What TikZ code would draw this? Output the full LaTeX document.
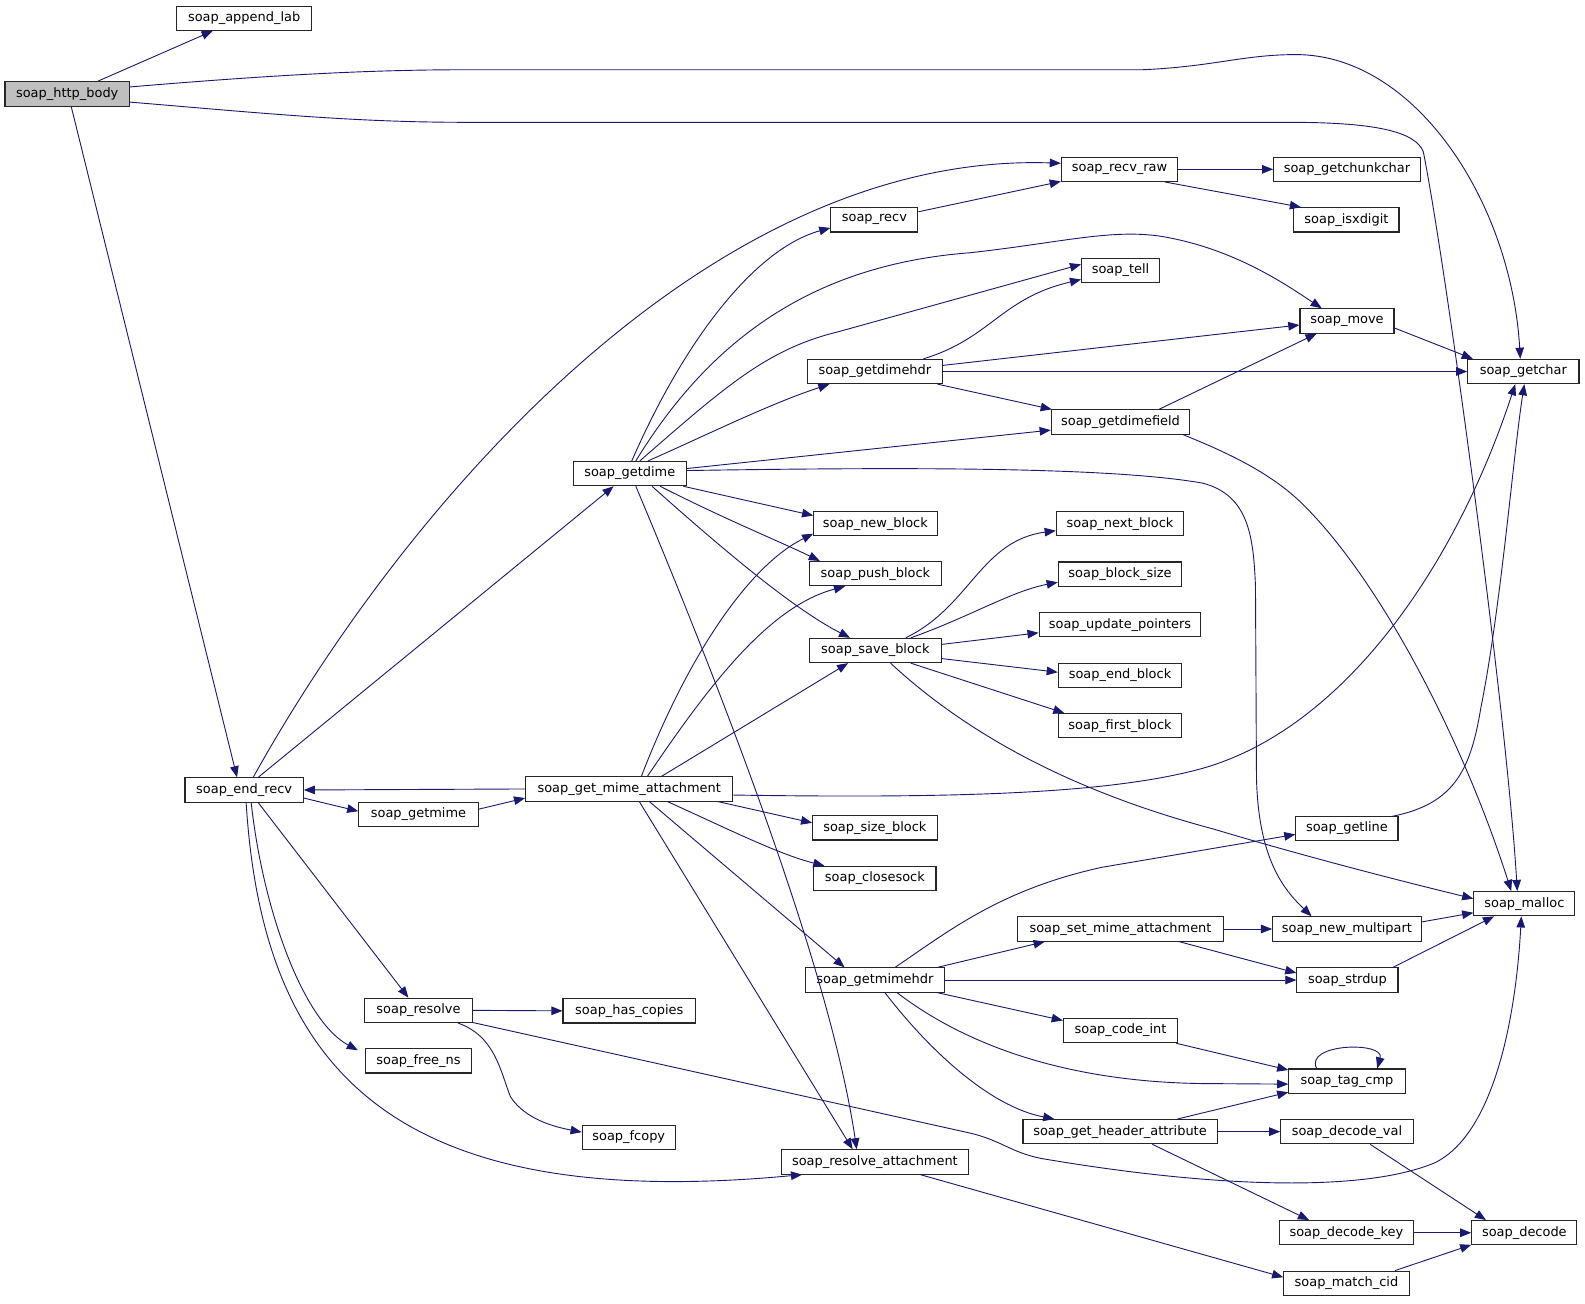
\documentclass[tikz,border=0pt]{standalone}
\usepackage{fontspec}
\setmainfont{DejaVu Sans}
\usetikzlibrary{arrows.meta,calc}
\definecolor{edgec}{HTML}{191970}
\definecolor{boxgray}{HTML}{BFBFBF}
\tikzset{
  box/.style={draw=black!85, line width=1.1pt, fill=white, rectangle, inner sep=0pt,
    minimum height=24pt, font=\fontsize{12.8}{14}\selectfont, text=black},
  e/.style={draw=edgec, line width=0.9pt, -{Triangle[length=11pt,width=8.5pt]}},
}
\begin{document}
\begin{tikzpicture}[x=1pt,y=-1pt]
\useasboundingbox (0,0) rectangle (1568,1290);
% nodes
\node[box, minimum width=123pt, fill=boxgray] (http) at (66.5,93) {soap\_http\_body};
\node[box, minimum width=133pt] (append) at (241.5,18) {soap\_append\_lab};
\node[box, minimum width=117pt] (endrecv) at (241.5,781.5) {soap\_end\_recv};
\node[box, minimum width=112pt] (getdime) at (623,468.5) {soap\_getdime};
\node[box, minimum width=115pt] (recvraw) at (1107.5,167.5) {soap\_recv\_raw};
\node[box, minimum width=145pt] (getchunk) at (1332.5,167.5) {soap\_getchunkchar};
\node[box, minimum width=104pt] (isxdigit) at (1332,217.5) {soap\_isxdigit};
\node[box, minimum width=86pt] (recv) at (865,217.5) {soap\_recv};
\node[box, minimum width=77pt] (tell) at (1108.5,267.5) {soap\_tell};
\node[box, minimum width=93pt] (move) at (1332.5,317.5) {soap\_move};
\node[box, minimum width=110pt] (getchar) at (1507,367.5) {soap\_getchar};
\node[box, minimum width=133pt] (getdimehdr) at (865.5,367.5) {soap\_getdimehdr};
\node[box, minimum width=137pt] (getdimefield) at (1108.5,417.5) {soap\_getdimefield};
\node[box, minimum width=122pt] (newblock) at (866,518) {soap\_new\_block};
\node[box, minimum width=130pt] (pushblock) at (866,567.5) {soap\_push\_block};
\node[box, minimum width=130pt] (saveblock) at (866,643.5) {soap\_save\_block};
\node[box, minimum width=126pt] (nextblock) at (1108,518) {soap\_next\_block};
\node[box, minimum width=122pt] (blocksize) at (1108,568) {soap\_block\_size};
\node[box, minimum width=160pt] (updptr) at (1108,618) {soap\_update\_pointers};
\node[box, minimum width=122pt] (endblock) at (1108,668) {soap\_end\_block};
\node[box, minimum width=122pt] (firstblock) at (1108,718) {soap\_first\_block};
\node[box, minimum width=205pt] (gma) at (622.5,780.5) {soap\_get\_mime\_attachment};
\node[box, minimum width=118pt] (getmime) at (414,805.5) {soap\_getmime};
\node[box, minimum width=123pt] (sizeblock) at (865.5,819) {soap\_size\_block};
\node[box, minimum width=121pt] (closesock) at (865.5,869) {soap\_closesock};
\node[box, minimum width=101pt] (getline) at (1332.5,819.5) {soap\_getline};
\node[box, minimum width=100pt] (malloc) at (1508,894) {soap\_malloc};
\node[box, minimum width=203pt] (setmime) at (1108.5,919) {soap\_set\_mime\_attachment};
\node[box, minimum width=147pt] (newmulti) at (1332.5,919) {soap\_new\_multipart};
\node[box, minimum width=137pt] (getmimehdr) at (865.5,969.5) {soap\_getmimehdr};
\node[box, minimum width=100pt] (strdup) at (1333,969.5) {soap\_strdup};
\node[box, minimum width=106pt] (resolve) at (414,999.5) {soap\_resolve};
\node[box, minimum width=131pt] (hascopies) at (622.5,1000) {soap\_has\_copies};
\node[box, minimum width=104pt] (freens) at (414,1049.5) {soap\_free\_ns};
\node[box, minimum width=113pt] (codeint) at (1108.5,1019.5) {soap\_code\_int};
\node[box, minimum width=115pt] (tagcmp) at (1332.5,1069.5) {soap\_tag\_cmp};
\node[box, minimum width=92pt] (fcopy) at (622,1125) {soap\_fcopy};
\node[box, minimum width=192pt] (gha) at (1108,1119.5) {soap\_get\_header\_attribute};
\node[box, minimum width=131pt] (decodeval) at (1332.5,1119.5) {soap\_decode\_val};
\node[box, minimum width=185pt] (resatt) at (865.5,1149.5) {soap\_resolve\_attachment};
\node[box, minimum width=132pt] (decodekey) at (1332,1219.5) {soap\_decode\_key};
\node[box, minimum width=104pt] (decode) at (1508,1219.5) {soap\_decode};
\node[box, minimum width=124pt] (matchcid) at (1332,1269.5) {soap\_match\_cid};

% edges from soap_http_body
\draw[e] ($(http.north)+(30,0)$) -- ($(append.south)+(-31,0)$);
\draw[e] ($(http.east)+(0,-7)$) .. controls (260,75) and (360,69) .. (460,69) -- (1130,69)
  .. controls (1200,66) and (1230,54) .. (1282,54) .. controls (1400,54) and (1495,200) .. ($(getchar.north)+(-3,0)$);
\draw[e] ($(http.east)+(0,8)$) .. controls (260,112) and (350,121) .. (460,121) -- (1275,121)
  .. controls (1360,121) and (1400,130) .. (1408,150) .. controls (1430,260) and (1490,700) .. ($(malloc.north)+(-7,0)$);
\draw[e] ($(http.south)+(4,0)$) -- ($(endrecv.north)+(-7,0)$);

% soap_end_recv
\draw[e] ($(endrecv.north)+(9,0)$) .. controls (400,500) and (700,150) .. ($(recvraw.west)+(0,-6)$);
\draw[e] ($(endrecv.north)+(14,0)$) -- ($(getdime.south)+(-16,0)$);
\draw[e] ($(endrecv.east)+(0,8)$) -- ($(getmime.west)+(0,-3)$);
\draw[e] ($(endrecv.south)+(14,0)$) -- ($(resolve.north)+(-10,0)$);
\draw[e] ($(endrecv.south)+(7,0)$) .. controls (260,900) and (300,1010) .. ($(freens.north)+(-60,2)$);
\draw[e] ($(endrecv.south)+(2,0)$) .. controls (260,1060) and (390,1200) .. ($(resatt.south)+(-72,0)$);

% soap_get_mime_attachment
\draw[e] (gma.west) -- (endrecv.east);
\draw[e] ($(getmime.east)+(0,-5)$) -- ($(gma.west)+(0,9)$);
\draw[e] ($(gma.north)+(12,0)$) .. controls (680,650) and (740,560) .. ($(newblock.west)+(0,10)$);
\draw[e] ($(gma.north)+(18,0)$) .. controls (700,680) and (760,600) .. ($(pushblock.south)+(-30,0)$);
\draw[e] ($(gma.north)+(32,0)$) -- ($(saveblock.south)+(-27,0)$);
\draw[e] ($(gma.south)+(88,0)$) -- ($(sizeblock.west)+(0,-5)$);
\draw[e] ($(gma.south)+(38,0)$) .. controls (720,820) and (770,845) .. ($(closesock.north)+(-50,0)$);
\draw[e] ($(gma.south)+(20,0)$) -- ($(getmimehdr.north)+(-30,0)$);
\draw[e] ($(gma.south)+(10,0)$) -- ($(resatt.north)+(-22,0)$);
\draw[e] ($(gma.east)+(0,6)$) .. controls (950,790) and (1100,785) .. (1190,760)
  .. controls (1330,720) and (1440,560) .. ($(getchar.south)+(-8,0)$);

% soap_getdime
\draw[e] ($(getdime.north)+(2,0)$) .. controls (680,330) and (750,245) .. ($(recv.west)+(0,8)$);
\draw[e] ($(getdime.north)+(6,0)$) .. controls (700,340) and (800,262) .. (960,250)
  .. controls (1050,240) and (1100,226) .. (1150,234) .. controls (1220,246) and (1270,280) .. ($(move.north)+(-25,0)$);
\draw[e] ($(getdime.north)+(10,0)$) .. controls (720,380) and (760,345) .. (830,328) -- ($(tell.west)+(0,-6)$);
\draw[e] ($(getdime.north)+(18,0)$) .. controls (700,430) and (760,400) .. ($(getdimehdr.south)+(-45,0)$);
\draw[e] ($(getdime.east)+(0,-5)$) -- ($(getdimefield.west)+(0,8)$);
\draw[e] ($(getdime.east)+(0,-3)$) .. controls (900,462) and (1100,462) .. (1190,478)
  .. controls (1235,490) and (1240,530) .. (1242,580) -- (1243,770)
  .. controls (1245,850) and (1270,880) .. ($(newmulti.north)+(-35,0)$);
\draw[e] ($(getdime.south)+(53,0)$) -- ($(newblock.west)+(0,-8)$);
\draw[e] ($(getdime.south)+(30,0)$) .. controls (720,515) and (770,535) .. ($(pushblock.north)+(-55,0)$);
\draw[e] ($(getdime.south)+(22,0)$) .. controls (700,530) and (780,600) .. ($(saveblock.north)+(-25,0)$);
\draw[e] ($(getdime.south)+(6,0)$) .. controls (700,650) and (820,950) .. ($(resatt.north)+(-18,0)$);

% soap_recv / recv_raw
\draw[e] ($(recv.east)+(0,-8)$) -- ($(recvraw.west)+(0,12)$);
\draw[e] (recvraw.east) -- (getchunk.west);
\draw[e] ($(recvraw.south)+(45,0)$) -- ($(isxdigit.north)+(-45,0)$);

% soap_getdimehdr
\draw[e] ($(getdimehdr.north)+(48,0)$) .. controls (980,335) and (990,295) .. ($(tell.west)+(0,9)$);
\draw[e] ($(getdimehdr.east)+(0,-6)$) -- ($(move.west)+(0,4)$);
\draw[e] (getdimehdr.east) -- (getchar.west);
\draw[e] ($(getdimehdr.south)+(62,0)$) -- ($(getdimefield.north)+(-68,0)$);

% soap_getdimefield, move
\draw[e] ($(getdimefield.north)+(38,0)$) -- ($(move.south)+(-30,0)$);
\draw[e] ($(getdimefield.south)+(62,0)$) .. controls (1220,450) and (1260,470) .. (1290,500)
  .. controls (1370,580) and (1450,740) .. ($(malloc.north)+(-13,0)$);
\draw[e] ($(move.east)+(0,7)$) -- ($(getchar.north)+(-50,0)$);

% soap_save_block
\draw[e] ($(saveblock.north)+(30,0)$) .. controls (960,600) and (970,535) .. ($(nextblock.west)+(0,7)$);
\draw[e] ($(saveblock.north)+(35,0)$) .. controls (960,610) and (1000,585) .. ($(blocksize.west)+(0,8)$);
\draw[e] ($(saveblock.east)+(0,-6)$) -- ($(updptr.west)+(0,8)$);
\draw[e] ($(saveblock.east)+(0,8)$) -- ($(endblock.west)+(0,-3)$);
\draw[e] ($(saveblock.south)+(35,0)$) -- ($(firstblock.north)+(-55,0)$);
\draw[e] ($(saveblock.south)+(15,0)$) .. controls (950,720) and (1050,780) .. (1200,820)
  .. controls (1300,850) and (1400,875) .. ($(malloc.west)+(0,-5)$);

% soap_getline
\draw[e] ($(getline.east)+(-6,-12)$) .. controls (1440,795) and (1455,760) .. (1465,700)
  .. controls (1485,600) and (1497,450) .. ($(getchar.south)+(1,0)$);

% soap_getmimehdr
\draw[e] ($(getmimehdr.north)+(20,0)$) .. controls (940,920) and (990,880) .. (1090,858) -- ($(getline.west)+(0,6)$);
\draw[e] ($(getmimehdr.north)+(62,0)$) -- ($(setmime.south)+(-75,0)$);
\draw[e] (getmimehdr.east) -- (strdup.west);
\draw[e] ($(getmimehdr.south)+(62,0)$) -- ($(codeint.west)+(0,-10)$);
\draw[e] ($(getmimehdr.south)+(22,0)$) .. controls (950,1030) and (1050,1072) .. (1200,1072) -- ($(tagcmp.west)+(0,3)$);
\draw[e] ($(getmimehdr.south)+(10,0)$) .. controls (920,1040) and (980,1095) .. ($(gha.north)+(-65,0)$);

% set_mime etc.
\draw[e] (setmime.east) -- (newmulti.west);
\draw[e] ($(setmime.south)+(58,0)$) -- ($(strdup.west)+(0,-7)$);
\draw[e] ($(newmulti.east)+(0,-7)$) -- ($(malloc.west)+(0,9)$);
\draw[e] ($(strdup.north)+(45,0)$) -- ($(malloc.south)+(-30,0)$);
\draw[e] ($(codeint.south)+(55,0)$) -- ($(tagcmp.west)+(0,-11)$);
\draw[e] ($(tagcmp.north)+(-30,0)$) .. controls (1290,1032) and (1370,1030) .. ($(tagcmp.north)+(30,0)$);
\draw[e] ($(gha.north)+(57,0)$) -- ($(tagcmp.west)+(0,11)$);
\draw[e] (gha.east) -- (decodeval.west);
\draw[e] ($(gha.south)+(32,0)$) -- ($(decodekey.north)+(-37,0)$);
\draw[e] ($(decodeval.south)+(23,0)$) -- ($(decode.north)+(-38,0)$);
\draw[e] (decodekey.east) -- (decode.west);
\draw[e] ($(matchcid.north)+(48,0)$) -- ($(decode.west)+(0,12)$);
\draw[e] ($(resatt.south)+(45,0)$) -- ($(matchcid.west)+(0,-6)$);

% soap_resolve
\draw[e] (resolve.east) -- (hascopies.west);
\draw[e] ($(resolve.south)+(39,0)$) .. controls (490,1025) and (495,1060) .. (505,1085)
  .. controls (520,1108) and (550,1115) .. ($(fcopy.west)+(0,-5)$);
\draw[e] ($(resolve.east)+(0,12)$) -- (960,1121) .. controls (990,1128) and (1000,1140) .. (1030,1146)
  .. controls (1200,1175) and (1350,1180) .. (1420,1150) .. controls (1480,1120) and (1500,1000) .. ($(malloc.south)+(-3,0)$);
\end{tikzpicture}
\end{document}
